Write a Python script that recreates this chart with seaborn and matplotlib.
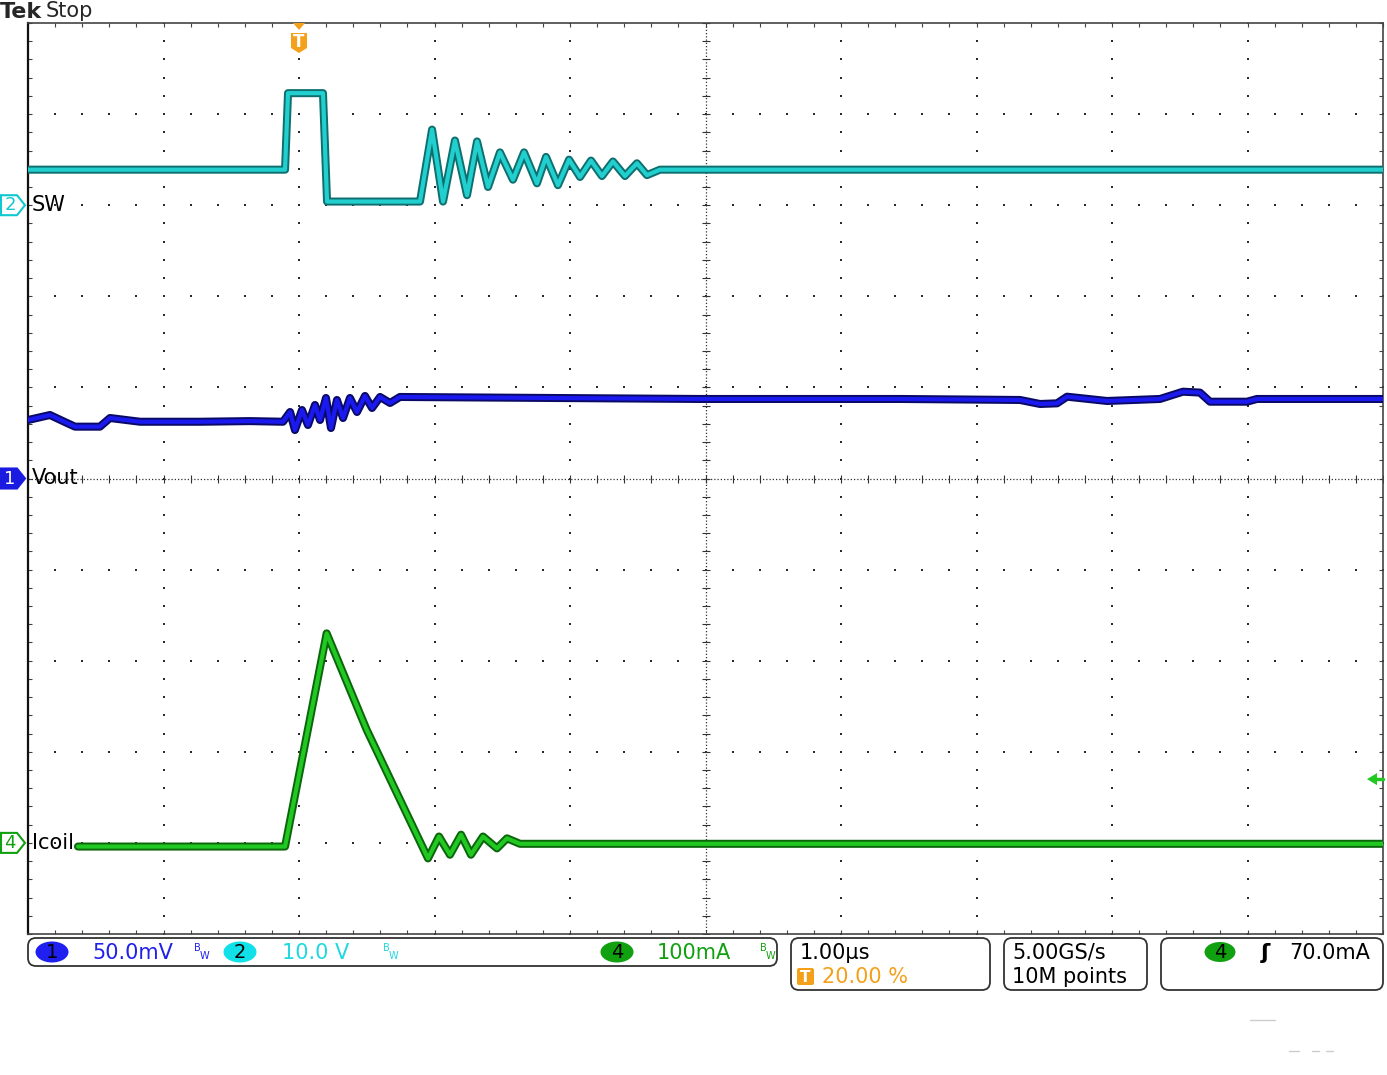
import numpy as np
import matplotlib
matplotlib.use('Agg')
import matplotlib.pyplot as plt
import matplotlib.patheffects as pe
from matplotlib.patches import Polygon, Ellipse, FancyBboxPatch
from matplotlib.lines import Line2D
from matplotlib.transforms import Affine2D, blended_transform_factory
import seaborn as sns

sns.set_style('white')
plt.rcParams['font.family'] = ['DejaVu Sans']

W, H = 1387, 1075

# time in us (trigger at 0), vertical position in screen divisions
sw_t = [-2.0, -0.103, -0.081, 0.177, 0.207, 0.893, 0.982, 1.063, 1.151, 1.240,
        1.314, 1.395, 1.483, 1.579, 1.661, 1.756, 1.823, 1.911, 1.993, 2.074,
        2.155, 2.236, 2.317, 2.406, 2.494, 2.568, 2.664, 8.0]
sw_v = [3.39, 3.39, 4.23, 4.23, 3.04, 3.04, 3.83, 3.04, 3.71, 3.11,
        3.70, 3.20, 3.58, 3.28, 3.58, 3.24, 3.53, 3.22, 3.50, 3.31,
        3.49, 3.32, 3.48, 3.32, 3.46, 3.33, 3.39, 3.39]

vout_t = [-2.0, -1.838, -1.712, -1.653, -1.469, -1.395, -1.173, -0.731, -0.362, -0.118,
          -0.066, -0.030, 0.022, 0.066, 0.118, 0.155, 0.199, 0.236, 0.280, 0.325,
          0.376, 0.428, 0.487, 0.539, 0.598, 0.672, 0.745, 2.959, 4.435, 5.321,
          5.469, 5.594, 5.668, 5.963, 6.354, 6.524, 6.649, 6.723, 6.996, 7.070, 8.0]
vout_v = [0.642, 0.697, 0.609, 0.569, 0.569, 0.664, 0.623, 0.623, 0.630, 0.623,
          0.730, 0.532, 0.752, 0.587, 0.807, 0.642, 0.884, 0.554, 0.862, 0.664,
          0.884, 0.730, 0.906, 0.774, 0.895, 0.829, 0.895, 0.873, 0.873, 0.862,
          0.818, 0.825, 0.898, 0.851, 0.873, 0.953, 0.943, 0.843, 0.843, 0.873, 0.873]

icoil_t = [-1.631, -0.103, 0.204, 0.50, 0.952, 1.033, 1.114, 1.196, 1.269, 1.358,
           1.461, 1.535, 1.631, 8.0]
icoil_v = [-4.04, -4.04, -1.70, -2.76, -4.17, -3.93, -4.13, -3.91, -4.13, -3.93,
           -4.06, -3.95, -4.01, -4.01]

# channel ground markers (divisions) and scales
sw_ground, vout_ground, icoil_ground = 3.0, 0.0, -4.0
icoil_scale_ma = 100.0
trig_level_ma = 70.0

CYAN, CYAN_D = '#22cfcf', '#0f6f6f'
BLUE, BLUE_D = '#1a1af0', '#0a0a66'
GREEN, GREEN_D = '#22c822', '#0b650b'
ORANGE = '#f5a01a'
GRID = '#2a2a2a'

fig = plt.figure(figsize=(W / 100, H / 100), dpi=100)
ax = fig.add_axes([28 / W, 1 - 934 / H, 1355 / W, 911 / H])
ax.set_xlim(-2, 8)
ax.set_ylim(-5, 5)
PX_DIV_X = 1355 / 10
PX_DIV_Y = 911 / 10

# pixel transform (y down) for the screen decorations
PX = Affine2D().scale(1 / W, -1 / H).translate(0, 1) + fig.transFigure
PX_Y = blended_transform_factory(PX, ax.transData)
T_PX = blended_transform_factory(ax.transData, PX)

# graticule
minor_x = np.round(np.arange(-2, 8.001, 0.2), 2)
minor_y = np.round(np.arange(-5, 5.001, 0.2), 2)
for k in range(-1, 8):
    if k == 3:
        continue
    ax.scatter(np.full_like(minor_y, k), minor_y, s=2.2, c=GRID, marker='s', linewidths=0, zorder=1)
for k in range(-4, 5):
    if k == 0:
        continue
    ax.scatter(minor_x, np.full_like(minor_x, k), s=2.2, c=GRID, marker='s', linewidths=0, zorder=1)
ax.axhline(0, color='#333', lw=0.9, ls=(0, (1, 1.6)), zorder=1)
ax.axvline(3, color='#333', lw=0.9, ls=(0, (1, 1.6)), zorder=1)
ax.scatter(minor_x, np.zeros_like(minor_x), marker='|', s=30, c='#333', linewidths=0.8, zorder=1)
ax.scatter(np.full_like(minor_y, 3), minor_y, marker='_', s=30, c='#333', linewidths=0.8, zorder=1)

ax.set_xticks(np.arange(-2, 8.01, 1))
ax.set_yticks(np.arange(-5, 5.01, 1))
ax.set_xticks(minor_x, minor=True)
ax.set_yticks(minor_y, minor=True)
ax.tick_params(which='both', direction='in', length=3, width=0.8, colors='#444',
               top=True, right=True, bottom=True, left=True,
               labelbottom=False, labelleft=False)
for side, sp in ax.spines.items():
    sp.set_color('#444')
    sp.set_linewidth(1.2)
ax.spines['left'].set_color('#111')
ax.spines['left'].set_linewidth(1.6)
ax.grid(False)

# traces
def trace(t, v, core, dark):
    sns.lineplot(x=t, y=v, ax=ax, color=core, lw=3.0, estimator=None, sort=False,
                 zorder=4, solid_joinstyle='round', solid_capstyle='round',
                 path_effects=[pe.Stroke(linewidth=5.8, foreground=dark, joinstyle='round'),
                               pe.Normal()])

trace(icoil_t, icoil_v, GREEN, GREEN_D)
trace(vout_t, vout_v, BLUE, BLUE_D)
trace(sw_t, sw_v, CYAN, CYAN_D)
ax.set_xlabel('')
ax.set_ylabel('')

# channel markers on the left
def chan_marker(level, num, color, filled, name):
    h = 10 / PX_DIV_Y
    poly = Polygon([(1, level + h), (17, level + h), (25, level), (17, level - h), (1, level - h)],
                   closed=True, transform=PX_Y, facecolor=color if filled else 'white',
                   edgecolor=color, lw=1.5, clip_on=False, zorder=6)
    fig.add_artist(poly)
    fig.text(10, level, num, transform=PX_Y, ha='center', va='center', fontsize=13,
             color='white' if filled else color, zorder=8)
    fig.text(32, level, name, transform=PX_Y, ha='left', va='center', fontsize=15,
             color='black', zorder=8)

chan_marker(sw_ground, '2', '#10c8d0', False, 'SW')
chan_marker(vout_ground, '1', '#1a1ae0', True, 'Vout')
chan_marker(icoil_ground, '4', '#10a010', False, 'Icoil')

# trigger position marker at the top
dx = 1 / PX_DIV_X
fig.add_artist(Polygon([(-6 * dx, 23), (6 * dx, 23), (0, 30)], closed=True, transform=T_PX,
                       facecolor=ORANGE, edgecolor='none', clip_on=False, zorder=7))
fig.add_artist(Polygon([(-8 * dx, 33), (8 * dx, 33), (8 * dx, 48), (0, 53), (-8 * dx, 48)],
                       closed=True, transform=T_PX, facecolor=ORANGE, edgecolor='none',
                       clip_on=False, zorder=7))
fig.text(0, 42, 'T', transform=T_PX, ha='center', va='center', fontsize=12,
         fontweight='bold', color='white', zorder=8)

# trigger level arrow on the right
trig_div = icoil_ground + trig_level_ma / icoil_scale_ma
dy = 1 / PX_DIV_Y
fig.add_artist(Polygon([(1367, trig_div), (1377, trig_div + 6 * dy), (1377, trig_div - 6 * dy)],
                       closed=True, transform=PX_Y, facecolor=GREEN, edgecolor='none',
                       clip_on=False, zorder=7))
fig.add_artist(Line2D([1375, 1383], [trig_div, trig_div], transform=PX_Y, color=GREEN, lw=2.5))

# header
fig.text(0, 12, 'Tek', transform=PX, ha='left', va='center', fontsize=16, fontweight='bold')
fig.text(46, 11, 'Stop', transform=PX, ha='left', va='center', fontsize=15)

# status boxes
def box(x0, y0, x1, y1):
    fig.add_artist(FancyBboxPatch((x0, y0), x1 - x0, y1 - y0, boxstyle='round,pad=0,rounding_size=8',
                                  transform=PX, facecolor='white', edgecolor='#333', lw=1.3))

def badge(xc, yc, num, color, w=33, h=21):
    fig.add_artist(Ellipse((xc, yc), w, h, transform=PX, facecolor=color, edgecolor='none'))
    fig.text(xc, yc, num, transform=PX, ha='center', va='center', fontsize=14, color='black',
             zorder=8)

def bw(x, color):
    fig.text(x, 948, 'B', transform=PX, ha='left', va='center', fontsize=7, color=color)
    fig.text(x + 6, 956, 'W', transform=PX, ha='left', va='center', fontsize=7, color=color)

box(28, 938, 777, 966)
badge(52, 952, '1', '#1f1ff0')
fig.text(92, 953, '50.0mV', transform=PX, ha='left', va='center', fontsize=15, color='#2020e8')
bw(194, '#2020e8')
badge(240, 952, '2', '#10e0e8')
fig.text(282, 953, '10.0 V', transform=PX, ha='left', va='center', fontsize=15, color='#20d8e0')
bw(383, '#20d8e0')
badge(617, 952, '4', '#10a010')
fig.text(657, 953, '100mA', transform=PX, ha='left', va='center', fontsize=15, color='#10a010')
bw(760, '#10a010')

box(791, 938, 990, 990)
fig.text(800, 953, '1.00µs', transform=PX, ha='left', va='center', fontsize=15, color='black')
fig.add_artist(FancyBboxPatch((797, 968), 17, 17, boxstyle='round,pad=0,rounding_size=2',
                              transform=PX, facecolor=ORANGE, edgecolor='none'))
fig.text(805.5, 977, 'T', transform=PX, ha='center', va='center', fontsize=11,
         fontweight='bold', color='white', zorder=8)
fig.text(822, 977, '20.00 %', transform=PX, ha='left', va='center', fontsize=15, color=ORANGE)

box(1004, 938, 1147, 990)
fig.text(1012, 953, '5.00GS/s', transform=PX, ha='left', va='center', fontsize=15, color='black')
fig.text(1012, 977, '10M points', transform=PX, ha='left', va='center', fontsize=15, color='black')

box(1161, 938, 1383, 990)
badge(1220, 952, '4', '#10a010', w=31, h=20)
fig.text(1265, 953, 'ʃ', transform=PX, ha='center', va='center', fontsize=16,
         fontweight='bold', color='black')
fig.text(1289, 953, '70.0mA', transform=PX, ha='left', va='center', fontsize=15, color='black')

# faint leftover marks below the screen
for xa, xb, yy in [(1250, 1275, 1020), (1289, 1299, 1051), (1312, 1319, 1051), (1326, 1333, 1051)]:
    fig.add_artist(Line2D([xa, xb], [yy, yy], transform=PX, color='#cccccc', lw=1))

fig.savefig('out.png', dpi=100)
plt.close(fig)
